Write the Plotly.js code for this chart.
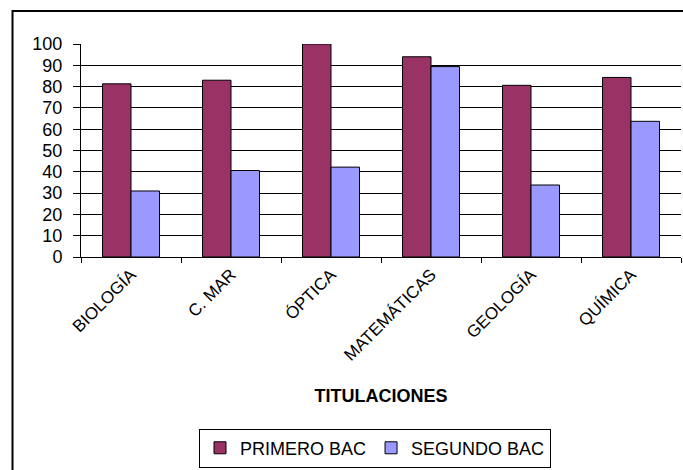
<!DOCTYPE html>
<html>
<head>
<meta charset="utf-8">
<script src="https://cdn.plot.ly/plotly-3.0.1.min.js"></script>
<style>html,body{margin:0;padding:0;background:#fff;}#chart{width:683px;height:470px;}</style>
</head>
<body>
<div id="chart"></div>
<script>
const categories = ["BIOLOGÍA", "C. MAR", "ÓPTICA", "MATEMÁTICAS", "GEOLOGÍA", "QUÍMICA"];
const primeroBac = [81.3, 83, 100, 94, 80.6, 84.3];
const segundoBac = [31, 40.6, 42.2, 89.4, 33.8, 63.7];
const yTicks = [0, 10, 20, 30, 40, 50, 60, 70, 80, 90, 100];

const FONT = "Liberation Sans, Arial, sans-serif";

const traces = [
  {type: "bar", name: "PRIMERO BAC", x: categories, y: primeroBac,
   marker: {color: "#993366", line: {color: "#000", width: 1}}},
  {type: "bar", name: "SEGUNDO BAC", x: categories, y: segundoBac,
   marker: {color: "#9999FF", line: {color: "#000", width: 1}}}
];

const L = 81, R = 2, T = 44, B = 210, W = 683, H = 470;
const pw = W - L - R, ph = H - T - B;
const px = v => (v - L) / pw;
const py = v => (H - B - v) / ph;

const layout = {
  width: W, height: H,
  margin: {l: L, r: R, t: T, b: B},
  paper_bgcolor: "#fff", plot_bgcolor: "#fff",
  font: {family: FONT, color: "#000", size: 18},
  barmode: "group", bargap: 0.43, bargroupgap: 0,
  showlegend: true,
  legend: {orientation: "h", x: 0.49, xanchor: "center", y: py(434), yanchor: "top",
           bordercolor: "#000", borderwidth: 1, font: {size: 18, family: FONT},
           itemwidth: 30, tracegroupgap: 0},
  xaxis: {
    type: "category", tickangle: -45, tickfont: {size: 17, family: FONT},
    showline: true, linecolor: "#000", linewidth: 1,
    ticks: "outside", tickson: "boundaries", ticklen: 5, tickcolor: "#000",
    showgrid: false, zeroline: false,
    title: {text: "<b>TITULACIONES</b>", font: {size: 18, family: FONT}, standoff: 25}
  },
  yaxis: {
    range: [0, 100], tickvals: yTicks, ticktext: yTicks.map(String),
    tickfont: {size: 18, family: FONT}, ticklabelstandoff: 7,
    showline: true, linecolor: "#000", linewidth: 1,
    ticks: "outside", ticklen: 7, tickcolor: "#000",
    showgrid: true, gridcolor: "#000", gridwidth: 1, zeroline: false
  },
  shapes: [
    {type: "rect", xref: "paper", yref: "paper",
     x0: px(12.5), x1: px(700), y0: py(490), y1: py(10.5),
     line: {color: "#000", width: 2}, fillcolor: "rgba(0,0,0,0)", layer: "below"}
  ]
};

Plotly.newPlot("chart", traces, layout, {displayModeBar: false, staticPlot: true});
</script>
</body>
</html>
